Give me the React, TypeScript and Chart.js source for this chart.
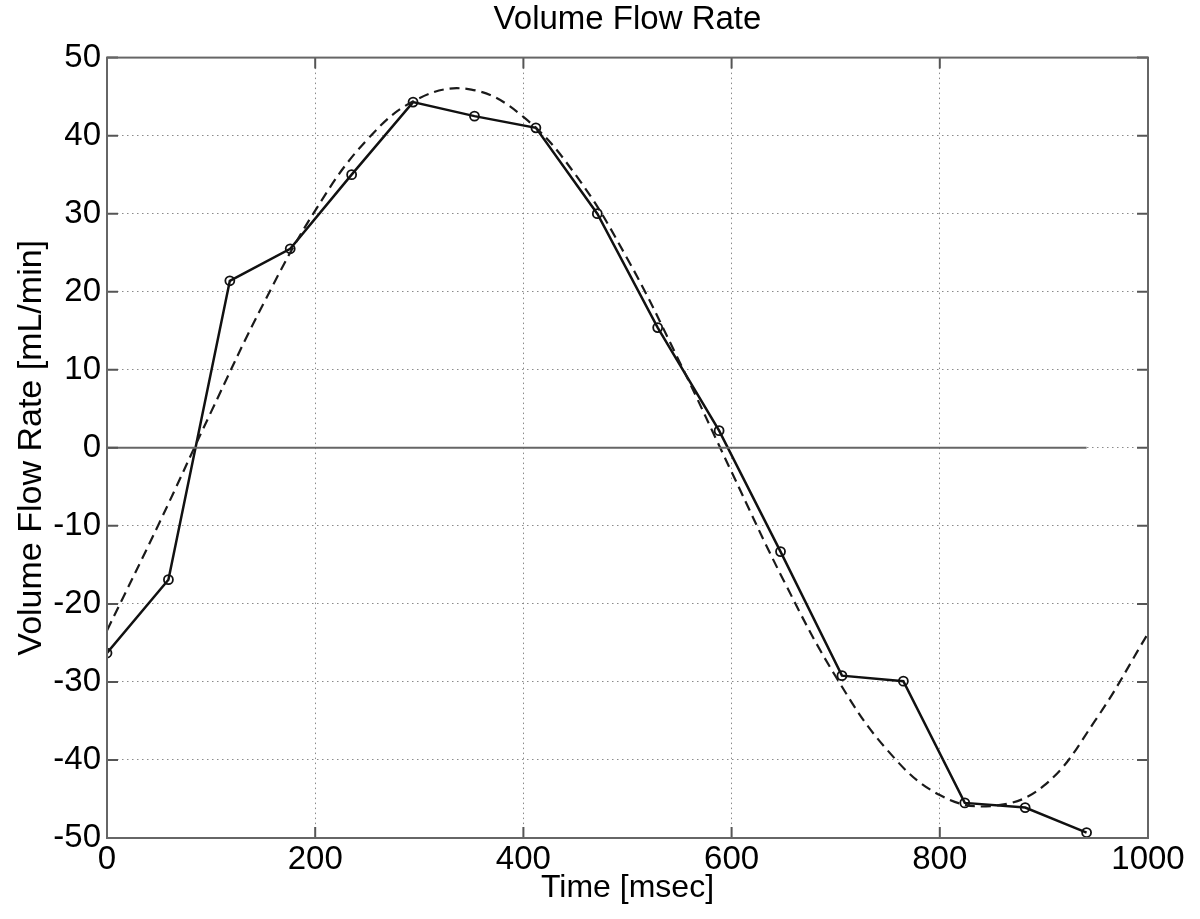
import React, { useEffect, useRef } from "react";
import { Chart, registerables } from "chart.js";

Chart.register(...registerables);

// Measured samples (solid line with circle markers)
const timeMs = [0, 59, 118, 176, 235, 294, 353, 412, 471, 529, 588, 647, 706, 765, 824, 882, 941];
const flowRate = [-26.3, -16.9, 21.4, 25.5, 35.0, 44.3, 42.5, 41.0, 30.0, 15.4, 2.2, -13.3, -29.2, -29.9, -45.5, -46.1, -49.3];

// Fitted curve (dashed), every 50 ms
const fitTimeMs = [0, 50, 100, 150, 200, 250, 300, 350, 400, 450, 500, 550, 600, 650, 700, 750, 800, 850, 900, 950, 1000];
const fitFlowRate = [-23.4, -9.7, 4.6, 18.4, 30.4, 39.5, 44.8, 45.9, 42.4, 35.0, 24.2, 11.0, -3.1, -17.0, -29.3, -38.8, -44.5, -45.9, -43.3, -34.8, -23.8];

// Zero reference line
const zeroLineTime = [0, 941];
const zeroLineValue = [0, 0];

// Axis ticks
const xTickValues = [0, 200, 400, 600, 800, 1000];
const yTickValues = [-50, -40, -30, -20, -10, 0, 10, 20, 30, 40, 50];

const FONT = "'Liberation Sans', Arial, Helvetica, sans-serif";

const framePlugin = {
  id: "matlabFrame",
  afterDraw(chart: any) {
    const { ctx, chartArea } = chart;
    const { left, right, top, bottom } = chartArea;
    const xs = chart.scales.x;
    const ys = chart.scales.y;
    const tl = 11;
    ctx.save();
    ctx.strokeStyle = "#555";
    ctx.lineWidth = 2;
    ctx.setLineDash([]);
    ctx.beginPath();
    xTickValues.forEach((v) => {
      const px = xs.getPixelForValue(v);
      ctx.moveTo(px, bottom);
      ctx.lineTo(px, bottom - tl);
      ctx.moveTo(px, top);
      ctx.lineTo(px, top + tl);
    });
    yTickValues.forEach((v) => {
      const py = ys.getPixelForValue(v);
      ctx.moveTo(left, py);
      ctx.lineTo(left + tl, py);
      ctx.moveTo(right, py);
      ctx.lineTo(right - tl, py);
    });
    ctx.stroke();
    ctx.lineWidth = 2;
    ctx.strokeStyle = "#666";
    ctx.strokeRect(left, top, right - left, bottom - top);
    ctx.restore();
  },
};

export default function App() {
  const canvasRef = useRef<HTMLCanvasElement | null>(null);

  useEffect(() => {
    document.body.style.margin = "0";
    const canvas = canvasRef.current;
    if (!canvas) return;

    const measured = timeMs.map((t, i) => ({ x: t, y: flowRate[i] }));
    const fitted = fitTimeMs.map((t, i) => ({ x: t, y: fitFlowRate[i] }));
    const zero = zeroLineTime.map((t, i) => ({ x: t, y: zeroLineValue[i] }));

    const chart = new Chart(canvas, {
      type: "line",
      data: {
        datasets: [
          {
            label: "zero",
            data: zero,
            borderColor: "#666",
            borderWidth: 2,
            pointRadius: 0,
            tension: 0,
          },
          {
            label: "Fit",
            data: fitted,
            borderColor: "#1a1a1a",
            borderWidth: 2.2,
            borderDash: [10, 6],
            pointRadius: 0,
            tension: 0.4,
          },
          {
            label: "Volume Flow Rate",
            data: measured,
            borderColor: "#111",
            borderWidth: 2.5,
            pointRadius: 4.5,
            pointBorderWidth: 1.8,
            pointBorderColor: "#111",
            pointBackgroundColor: "rgba(255,255,255,0)",
            tension: 0,
          },
        ],
      },
      plugins: [framePlugin],
      options: {
        responsive: false,
        animation: false,
        devicePixelRatio: 1,
        layout: { padding: { top: 0, right: 52, left: 0, bottom: 0 } },
        plugins: {
          legend: { display: false },
          tooltip: { enabled: false },
          title: {
            display: true,
            fullSize: false,
            text: "Volume Flow Rate",
            color: "#000",
            font: { family: FONT, size: 33, weight: "normal" },
            padding: { top: 0, bottom: 18 },
          },
        },
        scales: {
          x: {
            type: "linear",
            min: 0,
            max: 1000,
            afterBuildTicks: (scale: any) => {
              scale.ticks = xTickValues.map((v) => ({ value: v }));
            },
            afterFit: (scale: any) => {
              scale.height = 81;
            },
            ticks: {
              color: "#000",
              font: { family: FONT, size: 33 },
              padding: 2,
              maxRotation: 0,
              autoSkip: false,
              callback: (v: any) => String(v),
            },
            grid: {
              color: "#8a8a8a",
              lineWidth: 1,
              drawTicks: false,
            },
            border: { display: false, dash: [1.5, 3.5] },
            title: {
              display: true,
              text: "Time [msec]",
              color: "#000",
              font: { family: FONT, size: 32 },
              padding: { top: 0, bottom: 12 },
            },
          },
          y: {
            type: "linear",
            min: -50,
            max: 50,
            afterBuildTicks: (scale: any) => {
              scale.ticks = yTickValues.map((v) => ({ value: v }));
            },
            afterFit: (scale: any) => {
              scale.width = 107;
            },
            ticks: {
              color: "#000",
              font: { family: FONT, size: 33 },
              padding: 6,
              autoSkip: false,
              callback: (v: any) => String(v),
            },
            grid: {
              color: "#8a8a8a",
              lineWidth: 1,
              drawTicks: false,
            },
            border: { display: false, dash: [1.5, 3.5] },
            title: {
              display: true,
              text: "Volume Flow Rate [mL/min]",
              color: "#000",
              font: { family: FONT, size: 34 },
              padding: { top: 11, bottom: 0 },
            },
          },
        },
      },
    });

    return () => chart.destroy();
  }, []);

  return (
    <div style={{ width: 1200, height: 919, background: "#fff" }}>
      <canvas ref={canvasRef} width={1200} height={919} style={{ display: "block" }} />
    </div>
  );
}
